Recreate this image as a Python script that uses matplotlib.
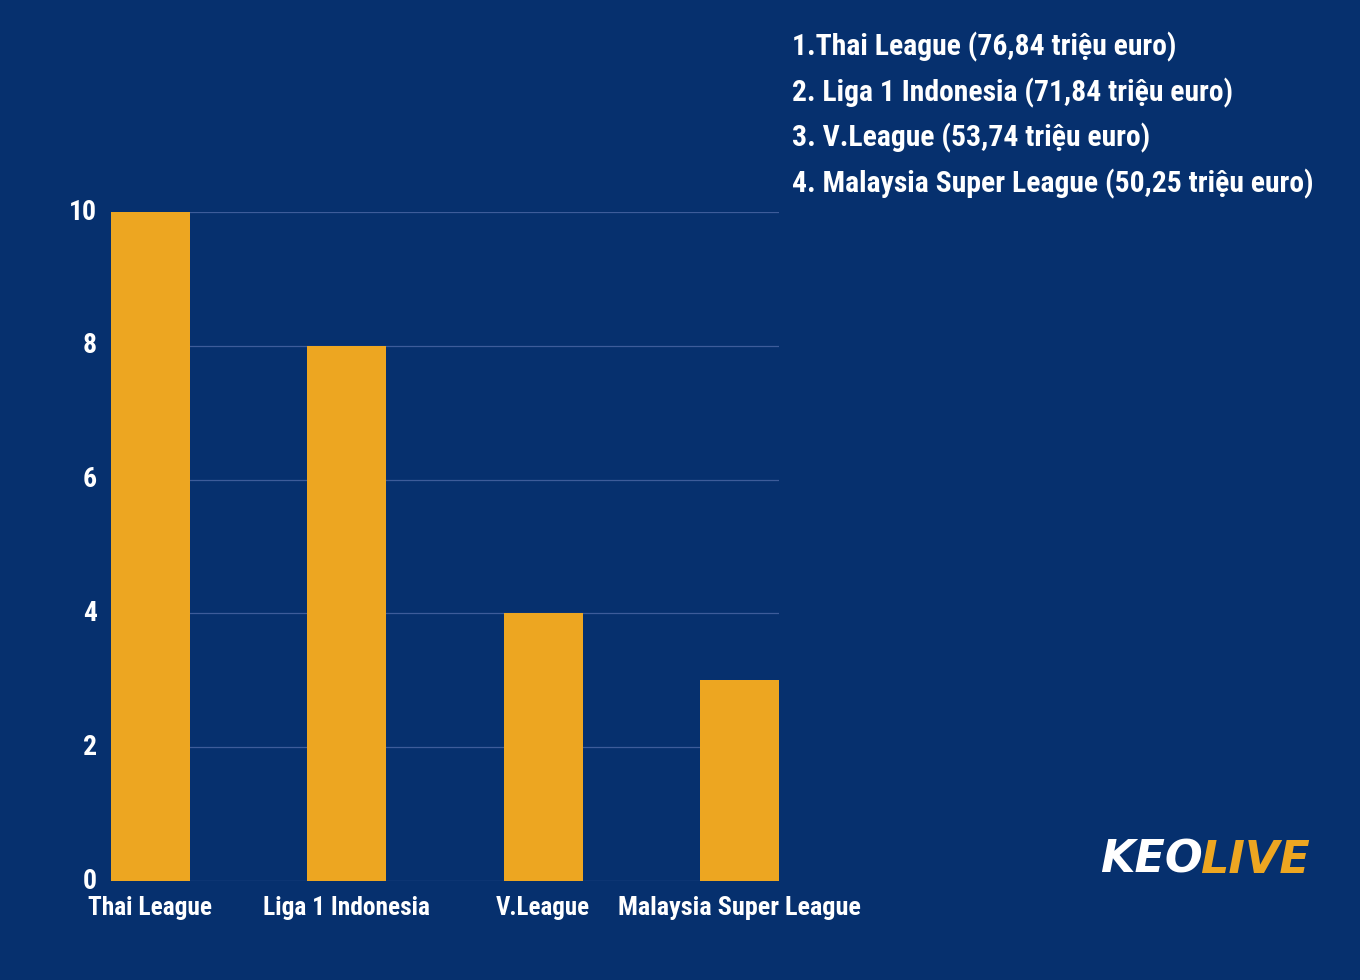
import matplotlib
matplotlib.use("Agg")
import matplotlib.pyplot as plt
from matplotlib import font_manager as fm

categories = ["Thai League", "Liga 1 Indonesia", "V.League", "Malaysia Super League"]
values = [10, 8, 4, 3]
yticks = [0, 2, 4, 6, 8, 10]
legend_lines = ["1.Thai League (76,84 triệu euro)", "2. Liga 1 Indonesia (71,84 triệu euro)",
                "3. V.League (53,74 triệu euro)", "4. Malaysia Super League (50,25 triệu euro)"]

names = {f.name for f in fm.fontManager.ttflist}
FAM = "DejaVu Sans"
for cand in ["Liberation Sans Narrow", "Roboto Condensed", "Open Sans Condensed", "DejaVu Sans Condensed"]:
    if cand in names:
        FAM = cand
        break

BG = "#06306e"
BAR = "#eda621"
font = dict(family=FAM, weight="bold", color="white")

fig = plt.figure(figsize=(13.6, 9.8), dpi=100, facecolor=BG)
ax = fig.add_axes([111/1360, 99/980, 668/1360, 669/980], facecolor=BG)
x = range(len(categories))
ax.bar(x, values, width=0.4, color=BAR, zorder=3)
ax.set_xlim(-0.2, 3.2)
ax.set_ylim(0, 10)
ax.set_yticks(yticks)
ax.set_xticks(list(x))
for s in ax.spines.values():
    s.set_visible(False)
ax.tick_params(length=0)
ax.set_xticklabels([])
ax.set_yticklabels([])
ax.grid(axis="y", color="#3d5c9a", linewidth=0.9, zorder=0)

renderer = fig.canvas.get_renderer()
def fit(t, target):
    w = t.get_window_extent(renderer).width
    t.set_fontsize(t.get_fontsize() * target / w)

for yv in yticks:
    ax.text(-0.27, yv, str(yv), ha="right", va="center",
            fontsize=20 if FAM != "DejaVu Sans" else 17, **font)
xlab_w = [124, 167, 94, 243]
for i, c in enumerate(categories):
    t = ax.text(i, -0.4, c, ha="center", va="center", fontsize=18, **font)
    fit(t, xlab_w[i])

for i, line in enumerate(legend_lines):
    t = fig.text(792/1360, 1 - (47 + i*45.5)/980, line, fontsize=21, va="center", ha="left", **font)
    if i == 3:
        ref = t
fit(ref, 521)
fs = ref.get_fontsize()
for t in fig.texts:
    t.set_fontsize(fs)

fig.text(1100/1360, 1 - 860/980, "KEO", fontsize=32, style="italic", ha="left", va="center",
         family="DejaVu Sans", weight="bold", color="white")
fig.text(1200/1360, 1 - 860/980, "LIVE", fontsize=32, style="italic", ha="left", va="center",
         family="DejaVu Sans", weight="bold", color=BAR)

fig.savefig("out.png", dpi=100, facecolor=BG)
